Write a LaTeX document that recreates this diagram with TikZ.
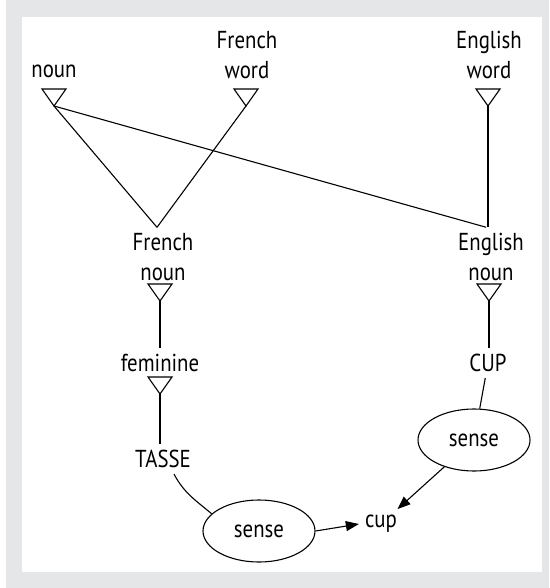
\documentclass[tikz,border=0pt]{standalone}
\usepackage{fontspec}
\setmainfont[FakeStretch=0.85]{PT Sans}
\usetikzlibrary{shapes.geometric,arrows.meta,positioning}

\definecolor{framegray}{HTML}{E5E6E7}
\newcommand{\wgfont}{\fontsize{24.5}{29.5}\selectfont}

\tikzset{
  concept/.style={font=\wgfont, align=center, inner sep=6pt},
  link/.style={line width=1.1pt},
  senselink/.style={link, -{Triangle[length=13pt,width=10pt]}},
  sense/.style={draw, ellipse, line width=1.1pt, minimum width=112pt,
    minimum height=62pt, inner sep=0pt, font=\wgfont},
  isa/.pic={
    \draw[link] (-12,0) -- (12,0) -- (0,17) -- cycle;
    \coordinate (-apex) at (0,17);
  }
}

\begin{document}
\begin{tikzpicture}[x=1pt,y=-1pt]
  \useasboundingbox (0,0) rectangle (549,588);
  \fill[framegray] (6,0) rectangle (549,588);
  \fill[white] (22,17) rectangle (542,572);

  % general categories
  \node[concept] (noun) at (54,71) {noun};
  \node[concept] (frword) at (247,55) {French\\word};
  \node[concept] (enword) at (489,55) {English\\word};
  \pic (t1) at (54,89) {isa};
  \pic (t2) at (246,89) {isa};
  \pic (t3) at (488,89) {isa};

  % the two nouns
  \node[concept] (frnoun) at (163,257) {French\\noun};
  \node[concept] (ennoun) at (491,257) {English\\noun};
  \pic (t4) at (160,284) {isa};
  \pic (t5) at (489,284) {isa};

  \node[concept] (fem) at (160,363) {feminine};
  \pic (t6) at (160,377) {isa};

  % lexemes and senses
  \node[concept] (tasse) at (163,459) {TASSE};
  \node[concept] (cupword) at (488,363) {CUP};
  \node[sense] (sense2) at (474,440) {sense};
  \node[sense] (sense1) at (259,531) {sense};
  \node[concept] (cup) at (381,524) {cup};

  \draw[link] (t1-apex) -- ([xshift=-6pt]frnoun.north);
  \draw[link] (t2-apex) -- ([xshift=-6pt]frnoun.north);
  \draw[link] (t1-apex) -- ([xshift=-5pt]ennoun.north);
  \draw[link] (t3-apex) -- (t3-apex |- ennoun.north);
  \draw[link] (t4-apex) -- (t4-apex |- fem.north);
  \draw[link] (t6-apex) -- (t6-apex |- tasse.north);
  \draw[link] (t5-apex) -- (t5-apex |- cupword.north);
  \draw[link] (cupword) -- (sense2);
  \draw[link] ([xshift=11pt]tasse.south) to[out=-62,in=140] (sense1.160);
  \draw[senselink] (sense1.east) -- (cup.west);
  \draw[senselink] (sense2) -- (cup);
\end{tikzpicture}
\end{document}
